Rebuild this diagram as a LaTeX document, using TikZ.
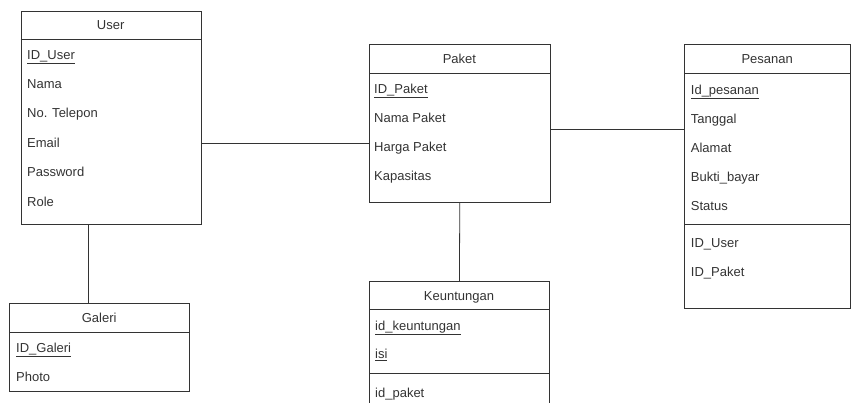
\documentclass[tikz,border=0pt]{standalone}
\usepackage{fontspec}
\setmainfont{Liberation Sans}
\begin{document}
\begin{tikzpicture}[x=1pt,y=-1pt,
  ln/.style={draw=black!80,line width=0.8pt},
  ent/.style={ln,anchor=north west,inner sep=0pt,minimum width=#1},
  hdr/.style={font=\fontsize{13}{15}\selectfont,text=black!80,anchor=base,inner sep=0pt},
  fld/.style={font=\fontsize{13}{15}\selectfont,text=black!80,anchor=base west,inner sep=0pt}]
\useasboundingbox (0,0) rectangle (851,403);
\clip (0,0) rectangle (851,403);
% User
\node[ent=180pt,minimum height=213.6pt] (u) at (20.7,10.7) {};
\draw[ln] (20.7,39.3) -- (200.7,39.3);
\node[hdr] (uh) at (110.7,29.5) {User};
\node[fld] (u1) at (27,59.5) {\underline{ID\_User}};
\node[fld] (u2) at (27,88.5) {Nama};
\node[fld] (u3) at (27,117.5) {No. Telepon};
\node[fld] (u4) at (27,147.5) {Email};
\node[fld] (u5) at (27,176.5) {Password};
\node[fld] (u6) at (27,206.5) {Role};
% Galeri
\node[ent=179.7pt,minimum height=87.7pt] (g) at (9.3,303) {};
\draw[ln] (9.3,332.7) -- (189,332.7);
\node[hdr] (gh) at (99.2,322.5) {Galeri};
\node[fld] (g1) at (16,352.5) {\underline{ID\_Galeri}};
\node[fld] (g2) at (16,381.5) {Photo};
% Paket
\node[ent=180.2pt,minimum height=158pt] (p) at (369.3,44) {};
\draw[ln] (369.3,73.3) -- (549.5,73.3);
\node[hdr] (ph) at (459.4,63.5) {Paket};
\node[fld] (p1) at (374,93.5) {\underline{ID\_Paket}};
\node[fld] (p2) at (374,122.5) {Nama Paket};
\node[fld] (p3) at (374,151.5) {Harga Paket};
\node[fld] (p4) at (374,180.5) {Kapasitas};
% Keuntungan
\node[ent=180pt,minimum height=140pt] (k) at (369,281) {};
\draw[ln] (369,309) -- (549,309);
\draw[ln] (369,373) -- (549,373);
\node[hdr] (kh) at (459,300.5) {Keuntungan};
\node[fld] (k1) at (375,330.5) {\underline{id\_keuntungan}};
\node[fld] (k2) at (375,358.5) {\underline{isi}};
\node[fld] (k3) at (375,397.5) {id\_paket};
% Pesanan
\node[ent=166.3pt,minimum height=264pt] (s) at (684,44) {};
\draw[ln] (684,73.3) -- (850.3,73.3);
\draw[ln] (684,224) -- (850.3,224);
\node[hdr] (sh) at (767.2,63.5) {Pesanan};
\node[fld] (s1) at (690.7,94.5) {\underline{Id\_pesanan}};
\node[fld] (s2) at (690.7,123.5) {Tanggal};
\node[fld] (s3) at (690.7,152.5) {Alamat};
\node[fld] (s4) at (690.7,181.5) {Bukti\_bayar};
\node[fld] (s5) at (690.7,210.5) {Status};
\node[fld] (s6) at (690.7,247.5) {ID\_User};
\node[fld] (s7) at (690.7,276.5) {ID\_Paket};
% connectors
\draw[ln] (u.east |- 0,143) -- (p.west |- 0,143);
\draw[ln] (p.east |- 0,129.3) -- (s.west |- 0,129.3);
\draw[ln] (p.south) -- (k.north);
\draw[ln] (u.south -| 88,0) -- (g.north -| 88,0);
\end{tikzpicture}
\end{document}
